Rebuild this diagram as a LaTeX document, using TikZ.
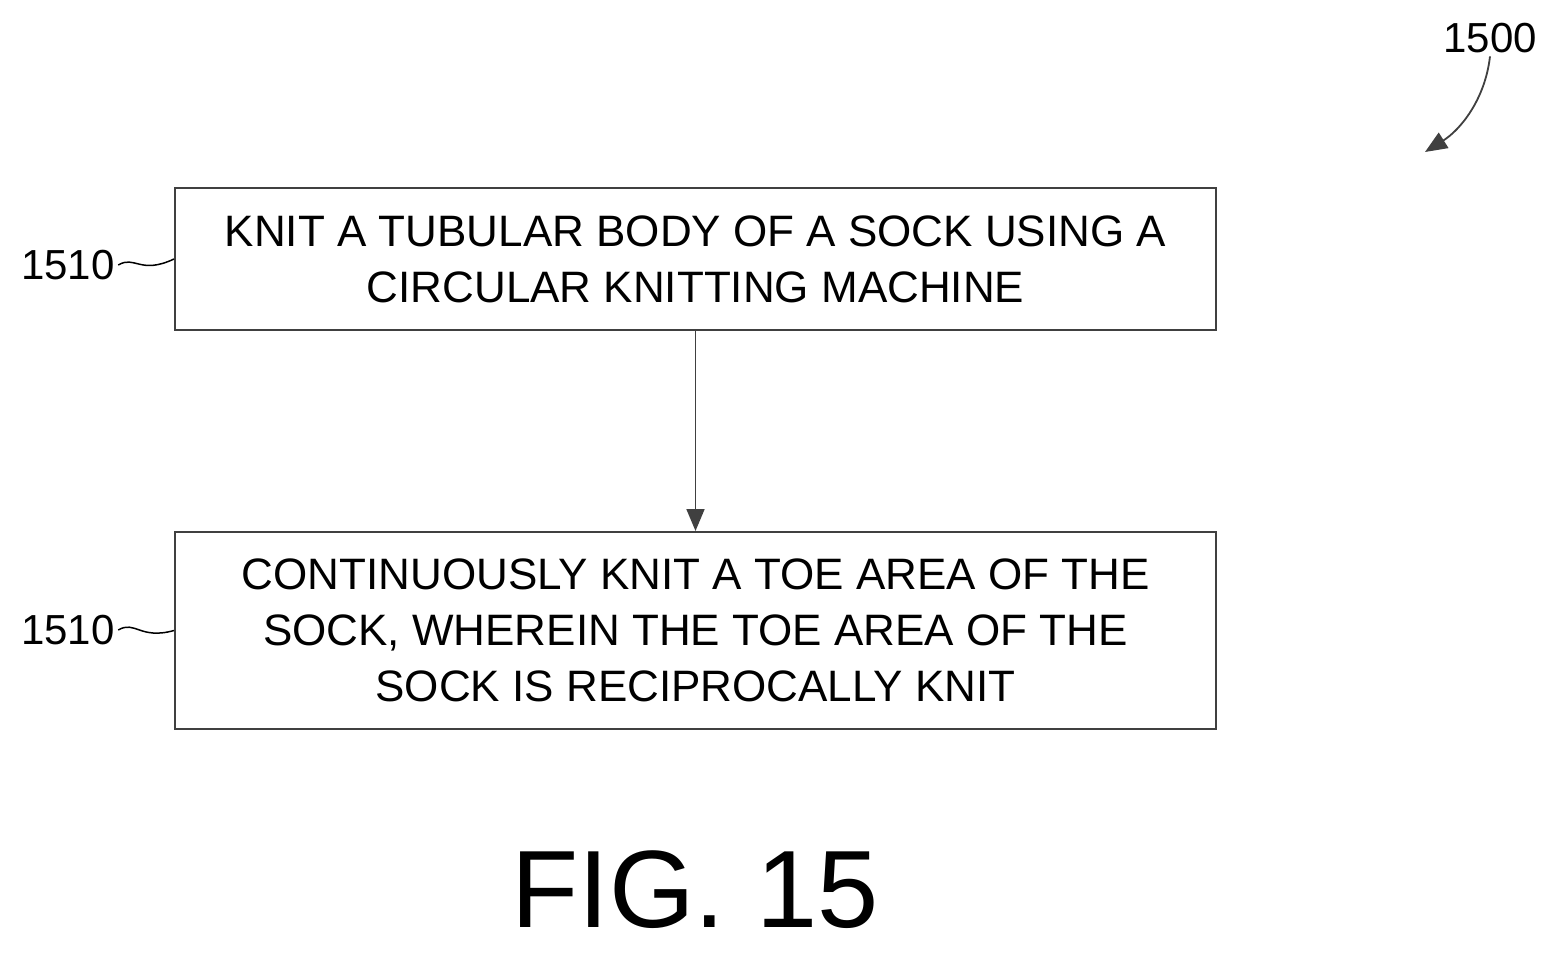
\documentclass[tikz,border=0pt]{standalone}
\usepackage{fontspec}
\setmainfont{Liberation Sans}
\usetikzlibrary{arrows.meta,decorations.pathmorphing}
\begin{document}
\begin{tikzpicture}[x=1pt,y=-1pt,
  boxst/.style={draw=black!75,line width=2pt,inner sep=0pt,align=center,font=\fontsize{44}{56}\selectfont},
  lbl/.style={font=\fontsize{42}{50}\selectfont},
  conn/.style={draw=black!75,line width=1.8pt,-{Triangle[length=22pt,width=18pt]}}]
\useasboundingbox (0,0) rectangle (1559,956);
\node[boxst,minimum width=1041pt,minimum height=142pt] (b1) at (695.5,259) {KNIT A TUBULAR BODY OF A SOCK USING A\\CIRCULAR KNITTING MACHINE};
\node[boxst,minimum width=1041pt,minimum height=197pt] (b2) at (695.5,630.5) {CONTINUOUSLY KNIT A TOE AREA OF THE\\SOCK, WHEREIN THE TOE AREA OF THE\\SOCK IS RECIPROCALLY KNIT};
\draw[conn] (b1.south) -- (b2.north);
\node[lbl] (l1) at (68,265) {1510};
\node[lbl] (l2) at (68,630) {1510};
\draw[line width=1.5pt] (l1.east) .. controls (135,255) and (140,275) .. (b1.west);
\draw[line width=1.5pt] (l2.east) .. controls (135,620) and (140,640) .. (b2.west);
\node[lbl] (l3) at (1490,38) {1500};
\coordinate (t) at (1425,152);
\draw[conn] (l3.south) .. controls (1485,100) and (1460,130) .. (t);
\node[font=\fontsize{110}{120}\selectfont] (fig) at (695,890) {FIG. 15};
\end{tikzpicture}
\end{document}
